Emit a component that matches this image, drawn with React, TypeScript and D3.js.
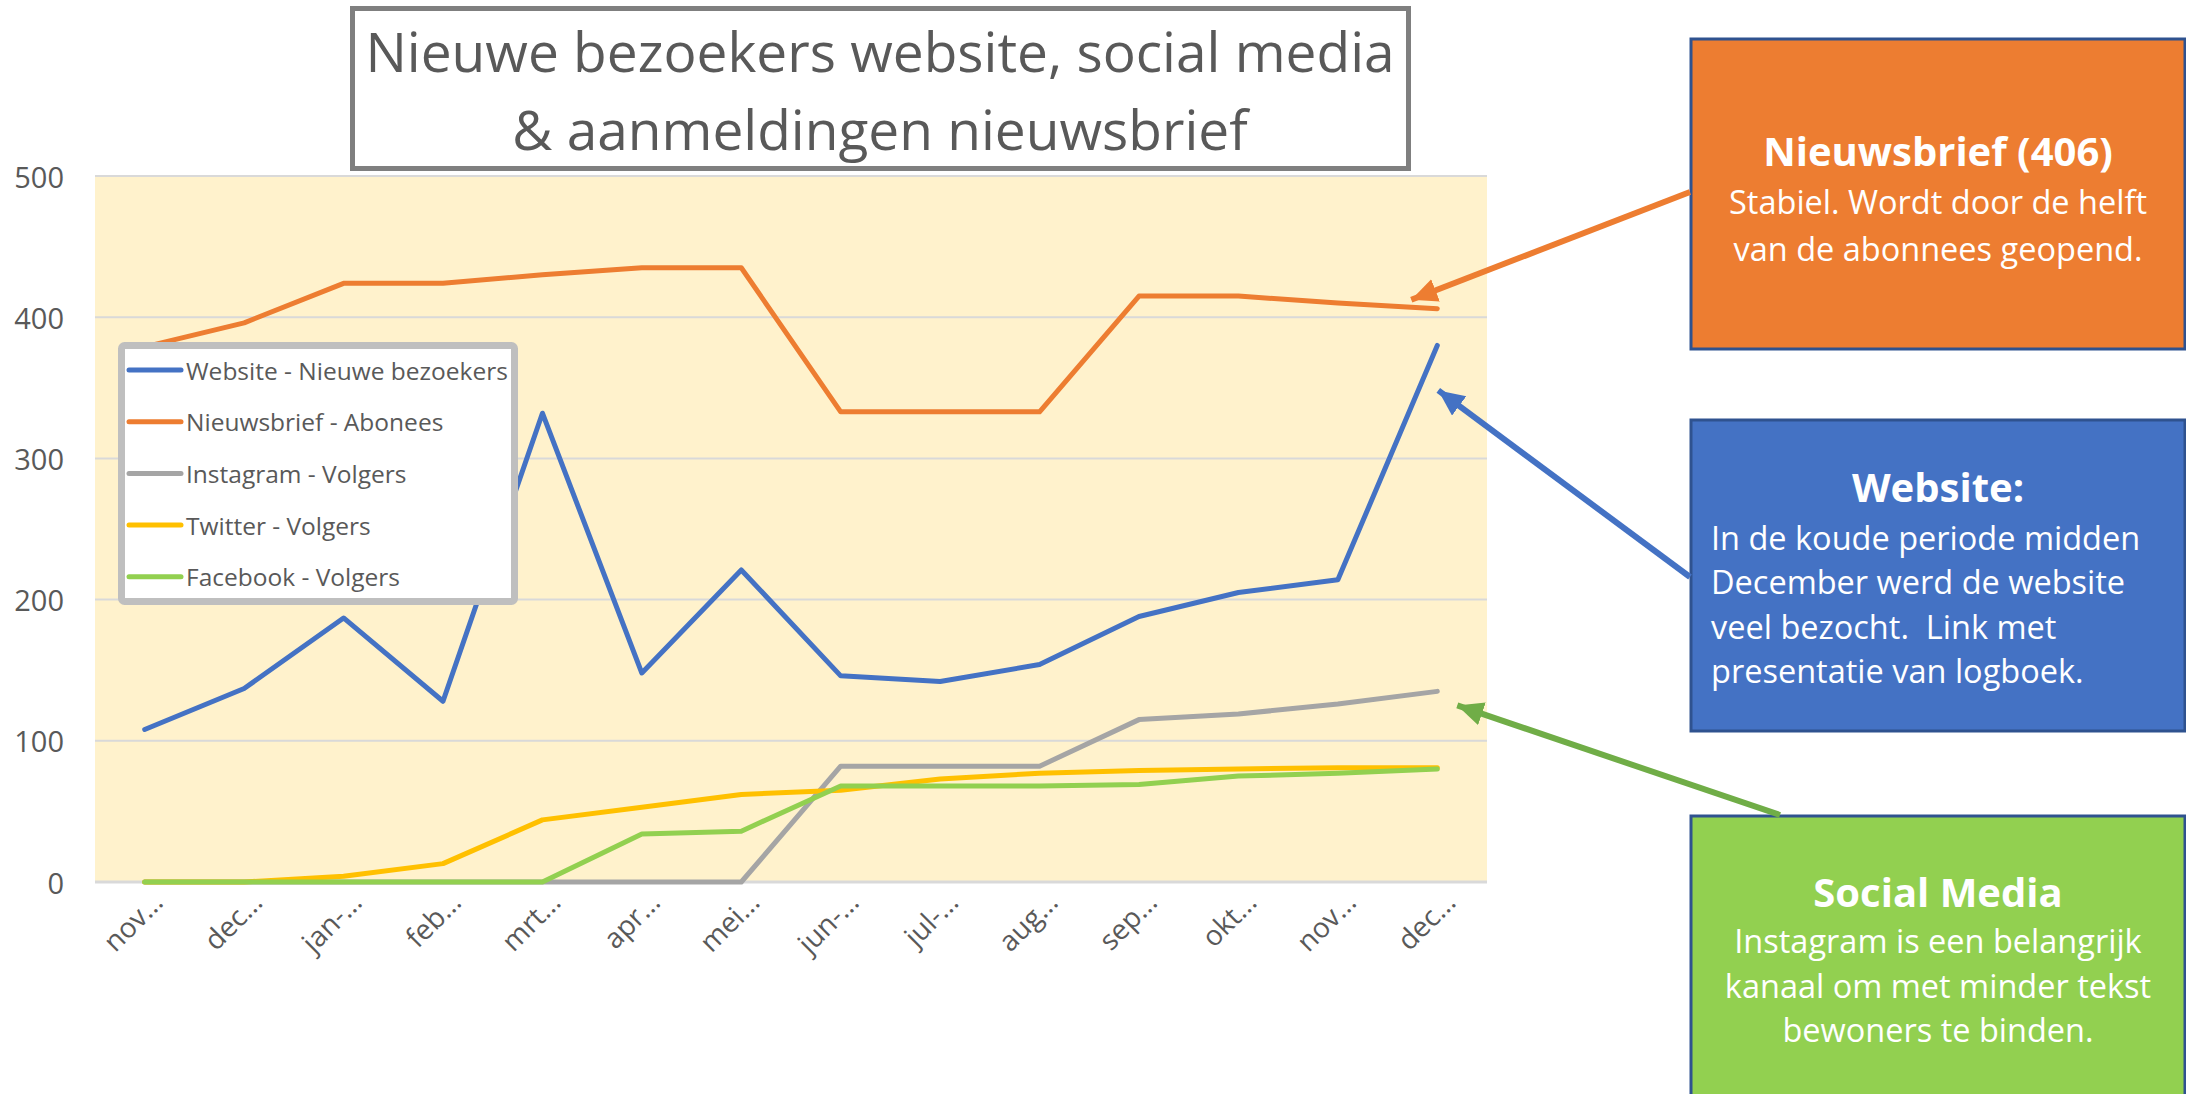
import React from 'react'
import * as d3 from 'd3'

// categories on the x axis (Excel truncated them with an ellipsis)
const months = ['nov…', 'dec…', 'jan-…', 'feb…', 'mrt…', 'apr…', 'mei…', 'jun-…', 'jul-…', 'aug…', 'sep…', 'okt…', 'nov…', 'dec…']

// series values
const website = [108, 137, 187, 128, 332, 148, 221, 146, 142, 154, 188, 205, 214, 380]
const nieuwsbrief = [379, 396, 424, 424, 430, 435, 435, 333, 333, 333, 415, 415, 410, 406]
const instagram = [0, 0, 0, 0, 0, 0, 0, 82, 82, 82, 115, 119, 126, 135]
const twitter = [0, 0, 4, 13, 44, 53, 62, 65, 73, 77, 79, 80, 81, 81]
const facebook = [0, 0, 0, 0, 0, 34, 36, 68, 68, 68, 69, 75, 77, 80]

const seriesNames = ['Website - Nieuwe bezoekers', 'Nieuwsbrief - Abonees', 'Instagram - Volgers', 'Twitter - Volgers', 'Facebook - Volgers']
const seriesColors = ['#4472C4', '#ED7D31', '#A5A5A5', '#FFC000', '#92D050']
const seriesValues = [website, nieuwsbrief, instagram, twitter, facebook]

const yTicks = [0, 100, 200, 300, 400, 500]

const titleLines = ['Nieuwe bezoekers website, social media', '& aanmeldingen nieuwsbrief']

const noteNieuwsbrief = ['Stabiel. Wordt door de helft', 'van de abonnees geopend.']
const noteWebsite = ['In de koude periode midden', 'December werd de website', 'veel bezocht.  Link met', 'presentatie van logboek.']
const noteSocial = ['Instagram is een belangrijk', 'kanaal om met minder tekst', 'bewoners te binden.']

const font = "'Open Sans', sans-serif"
const textColor = '#595959'

export default function App() {
  const width = 2186
  const height = 1094
  const plot = { left: 95, right: 1487, top: 176, bottom: 882 }

  const x = d3
    .scalePoint<number>()
    .domain(d3.range(months.length))
    .range([plot.left, plot.right])
    .padding(0.5)

  const y = d3.scaleLinear().domain([0, 500]).range([plot.bottom, plot.top])

  const line = d3
    .line<number>()
    .x((d, i) => x(i) as number)
    .y(d => y(d))

  const last = months.length - 1
  const lastX = x(last) as number

  // arrows: tail on the note box, tip next to the last point of a series
  const arrows = [
    { color: '#ED7D31', x1: 1690, y1: 192, x2: lastX - 26, y2: y(406) - 9 },
    { color: '#4472C4', x1: 1690, y1: 577, x2: lastX + 1, y2: y(380) + 45 },
    { color: '#70AD47', x1: 1780, y1: 815, x2: lastX + 20, y2: y(135) + 14 }
  ]

  const boxX = 1691
  const boxW = 494
  const boxCx = boxX + boxW / 2

  return (
    <svg
      width={width}
      height={height}
      style={{ position: 'absolute', left: 0, top: 0, background: '#fff' }}
      fontFamily={font}
    >
      <defs>
        {arrows.map((a, i) => (
          <marker
            key={i}
            id={`head${i}`}
            markerUnits="userSpaceOnUse"
            markerWidth={28}
            markerHeight={26}
            refX={26}
            refY={12}
            orient="auto"
          >
            <path d="M0,0 L26,12 L0,24 z" fill={a.color} />
          </marker>
        ))}
      </defs>

      {/* plot background */}
      <rect x={plot.left} y={plot.top} width={plot.right - plot.left} height={plot.bottom - plot.top} fill="#FFF2CC" />

      {/* gridlines and y labels */}
      {yTicks.map(t => (
        <g key={t}>
          <line x1={plot.left} x2={plot.right} y1={y(t)} y2={y(t)} stroke="#D9D9D9" strokeWidth={t === 0 ? 3 : 2} />
          <text x={64} y={y(t)} textAnchor="end" dominantBaseline="central" fontSize={29} fill={textColor}>
            {t}
          </text>
        </g>
      ))}

      {/* x labels */}
      {months.map((m, i) => (
        <text
          key={i}
          transform={`translate(${(x(i) as number) + 20},904) rotate(-45)`}
          textAnchor="end"
          fontSize={28}
          fill={textColor}
        >
          {m}
        </text>
      ))}

      {/* series */}
      {seriesValues.map((vals, i) => (
        <path
          key={i}
          d={line(vals) as string}
          fill="none"
          stroke={seriesColors[i]}
          strokeWidth={5}
          strokeLinejoin="round"
          strokeLinecap="round"
        />
      ))}

      {/* legend */}
      <rect x={121.5} y={345.5} width={393} height={256} rx={3} fill="#fff" stroke="#BFBFBF" strokeWidth={7} />
      {seriesNames.map((name, i) => {
        const ly = 370 + i * 51.7
        return (
          <g key={name}>
            <line x1={129} x2={181} y1={ly} y2={ly} stroke={seriesColors[i]} strokeWidth={5} strokeLinecap="round" />
            <text x={186} y={ly} dominantBaseline="central" fontSize={24.5} fill={textColor}>
              {name}
            </text>
          </g>
        )
      })}

      {/* title */}
      <rect x={352.5} y={8.5} width={1056} height={160} fill="#fff" stroke="#7F7F7F" strokeWidth={5} />
      {titleLines.map((t, i) => (
        <text key={i} x={880} y={72 + i * 78} textAnchor="middle" fontSize={55} fill={textColor}>
          {t}
        </text>
      ))}

      {/* note boxes */}
      <rect x={boxX} y={39} width={boxW} height={310} fill="#ED7D31" stroke="#2F528F" strokeWidth={3} />
      <text x={boxCx} y={166} textAnchor="middle" fontSize={40} fontWeight="bold" fill="#fff">
        Nieuwsbrief (406)
      </text>
      {noteNieuwsbrief.map((t, i) => (
        <text key={i} x={boxCx} y={214 + i * 47} textAnchor="middle" fontSize={32.5} fill="#fff">
          {t}
        </text>
      ))}

      <rect x={boxX} y={420} width={boxW} height={311} fill="#4472C4" stroke="#2F528F" strokeWidth={3} />
      <text x={boxCx} y={502} textAnchor="middle" fontSize={40} fontWeight="bold" fill="#fff">
        Website:
      </text>
      {noteWebsite.map((t, i) => (
        <text key={i} x={1711} y={550 + i * 44.3} fontSize={32.5} fill="#fff" style={{ whiteSpace: 'pre' }}>
          {t}
        </text>
      ))}

      <rect x={boxX} y={816} width={boxW} height={290} fill="#92D050" stroke="#2F528F" strokeWidth={3} />
      <text x={boxCx} y={907} textAnchor="middle" fontSize={40} fontWeight="bold" fill="#fff">
        Social Media
      </text>
      {noteSocial.map((t, i) => (
        <text key={i} x={boxCx} y={953 + i * 44.5} textAnchor="middle" fontSize={32.5} fill="#fff">
          {t}
        </text>
      ))}

      {/* arrows */}
      {arrows.map((a, i) => (
        <line
          key={i}
          x1={a.x1}
          y1={a.y1}
          x2={a.x2}
          y2={a.y2}
          stroke={a.color}
          strokeWidth={6}
          markerEnd={`url(#head${i})`}
        />
      ))}
    </svg>
  )
}
